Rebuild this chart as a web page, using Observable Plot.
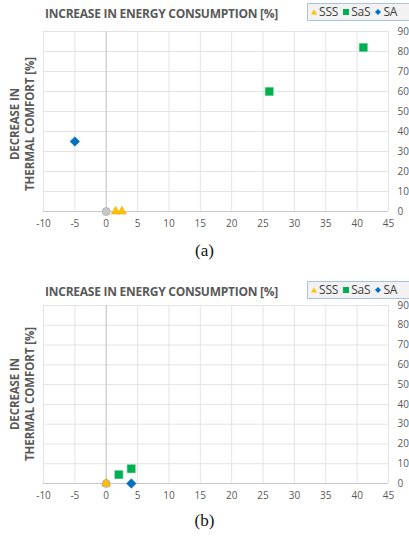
<!DOCTYPE html>
<html><head><meta charset="utf-8">
<script src="https://cdn.jsdelivr.net/npm/d3@7"></script>
<script src="https://cdn.jsdelivr.net/npm/@observablehq/plot@0.6"></script>
<style>
html,body{margin:0;padding:0;background:#fff;}
body{width:409px;height:537px;overflow:hidden;position:relative;font-family:"Open Sans",sans-serif;}
.panel{position:absolute;left:0;width:409px;height:268px;}
.panel svg{position:absolute;left:0;top:0;}
.title{position:absolute;left:45px;font-weight:700;color:#595959;font-size:12px;white-space:nowrap;letter-spacing:-0.25px;}
.legend{position:absolute;left:307px;width:110px;height:18px;background:#f2f2f2;border:1px solid #a9c4e0;box-sizing:border-box;font-size:12px;color:#404040;white-space:nowrap;line-height:16px;letter-spacing:-0.2px;}
.ylab{position:absolute;font-weight:700;color:#595959;font-size:11.5px;white-space:nowrap;transform-origin:0 0;transform:rotate(-90deg);line-height:15px;text-align:center;letter-spacing:-0.1px;}
.cap{position:absolute;width:409px;left:0;text-align:center;font-family:"Liberation Serif",serif;font-size:17px;color:#111;}
</style></head><body>
<div id="pa" class="panel" style="top:0"></div>
<div id="pb" class="panel" style="top:270px"></div>
<script>
// ---- tick values ----
const xTicks = [-10,-5,0,5,10,15,20,25,30,35,40,45];
const yTicks = [0,10,20,30,40,50,60,70,80,90];
// ---- series ----
const seriesNames = ["SSS","SaS","SA"];
const seriesColors = ["#ffc000","#00b050","#0070c0"];
const titleText = "INCREASE IN ENERGY CONSUMPTION [%]";
const yTitle1 = "DECREASE IN";
const yTitle2 = "THERMAL COMFORT [%]";
// panel (a)
const aBaseX = [0],        aBaseY = [0];
const aSSSX  = [1.5, 2.5], aSSSY  = [0, 0];
const aSaSX  = [26, 41],   aSaSY  = [60, 82];
const aSAX   = [-5],       aSAY   = [35];
// panel (b)
const bBaseX = [0],        bBaseY = [0];
const bSSSX  = [0],        bSSSY  = [0];
const bSaSX  = [2, 4],     bSaSY  = [4.5, 7.5];
const bSAX   = [4],        bSAY   = [0];

function rows(xs, ys, s){ return xs.map((x,i)=>({x, y: ys[i], s})); }

function makePanel(id, d, caption, layout){
  const el = document.getElementById(id);
  const base = rows(d.baseX, d.baseY, "Base");
  const sss = rows(d.sssX, d.sssY, "SSS");
  const sas = rows(d.sasX, d.sasY, "SaS");
  const sa  = rows(d.saX,  d.saY,  "SA");
  const plot = Plot.plot({
    width: 409, height: layout.height,
    marginTop: layout.mt, marginBottom: layout.mb, marginLeft: 43, marginRight: 21,
    style: {fontFamily: "'Open Sans', sans-serif", fontSize: "10px", color: "#595959", background: "transparent"},
    x: {domain: [-10, 45], ticks: xTicks, tickSize: 0, tickPadding: 8, label: null, tickFormat: d => String(d)},
    y: {domain: [0, 90], ticks: yTicks, tickSize: 0, tickPadding: 9, label: null, axis: "right"},
    marks: [
      Plot.ruleX(xTicks, {stroke: "#e3e3e3", strokeWidth: 1}),
      Plot.ruleY(yTicks, {stroke: "#e3e3e3", strokeWidth: 1}),
      Plot.ruleX([0], {stroke: "#c8c8c8", strokeWidth: 1}),
      Plot.ruleY([0], {stroke: "#c8c8c8", strokeWidth: 1}),
      Plot.dot(base, {x: "x", y: "y", symbol: "circle", r: 4, fill: "#c8c8c8", stroke: "#a6a6a6", strokeWidth: 0.7}),
      Plot.dot(sss, {x: "x", y: "y", symbol: "triangle", r: 3.3, fill: seriesColors[0], stroke: "#e0a800", strokeWidth: 0.5}),
      Plot.dot(sas, {x: "x", y: "y", symbol: "square", r: 5, fill: seriesColors[1], stroke: "#e8f5ec", strokeWidth: 0.6}),
      Plot.dot(sa,  {x: "x", y: "y", symbol: "diamond2", r: 4.3, fill: seriesColors[2], stroke: "#0060a8", strokeWidth: 0.5})
    ]
  });
  el.appendChild(plot);

  const t = document.createElement("div");
  t.className = "title"; t.textContent = titleText; t.style.top = layout.titleTop + "px";
  el.appendChild(t);

  const lg = document.createElement("div");
  lg.className = "legend"; lg.style.top = layout.legTop + "px";
  const symSvg = (i) => {
    const shapes = [
      '<polygon points="3,0.5 6,5.5 0,5.5" fill="'+seriesColors[0]+'"/>',
      '<rect x="0" y="0" width="6" height="6" fill="'+seriesColors[1]+'"/>',
      '<polygon points="3,0 6,3 3,6 0,3" fill="'+seriesColors[2]+'"/>'
    ];
    return '<svg width="6" height="6" style="vertical-align:middle;position:relative;top:-1px">'+shapes[i]+'</svg>';
  };
  lg.innerHTML = '<span style="margin-left:3px"></span>' + seriesNames.map((n,i)=> symSvg(i) + '<span style="margin-left:2px;margin-right:5px">'+n+'</span>').join("");
  el.appendChild(lg);

  const yl = document.createElement("div");
  yl.className = "ylab";
  yl.innerHTML = yTitle1 + "<br>" + yTitle2;
  yl.style.width = "160px";
  yl.style.left = "7px";
  yl.style.top = (layout.ylabCenter + 80) + "px";
  el.appendChild(yl);

  const c = document.createElement("div");
  c.className = "cap"; c.textContent = caption; c.style.top = layout.capTop + "px";
  el.appendChild(c);
}

makePanel("pa", {baseX:aBaseX, baseY:aBaseY, sssX:aSSSX, sssY:aSSSY, sasX:aSaSX, sasY:aSaSY, saX:aSAX, saY:aSAY}, "(a)",
  {height: 240, mt: 31, mb: 29, titleTop: 5, legTop: 3, ylabCenter: 124, capTop: 241});
makePanel("pb", {baseX:bBaseX, baseY:bBaseY, sssX:bSSSX, sssY:bSSSY, sasX:bSaSX, sasY:bSaSY, saX:bSAX, saY:bSAY}, "(b)",
  {height: 240, mt: 35, mb: 27, titleTop: 13, legTop: 11, ylabCenter: 124, capTop: 241});
</script>
</body></html>
